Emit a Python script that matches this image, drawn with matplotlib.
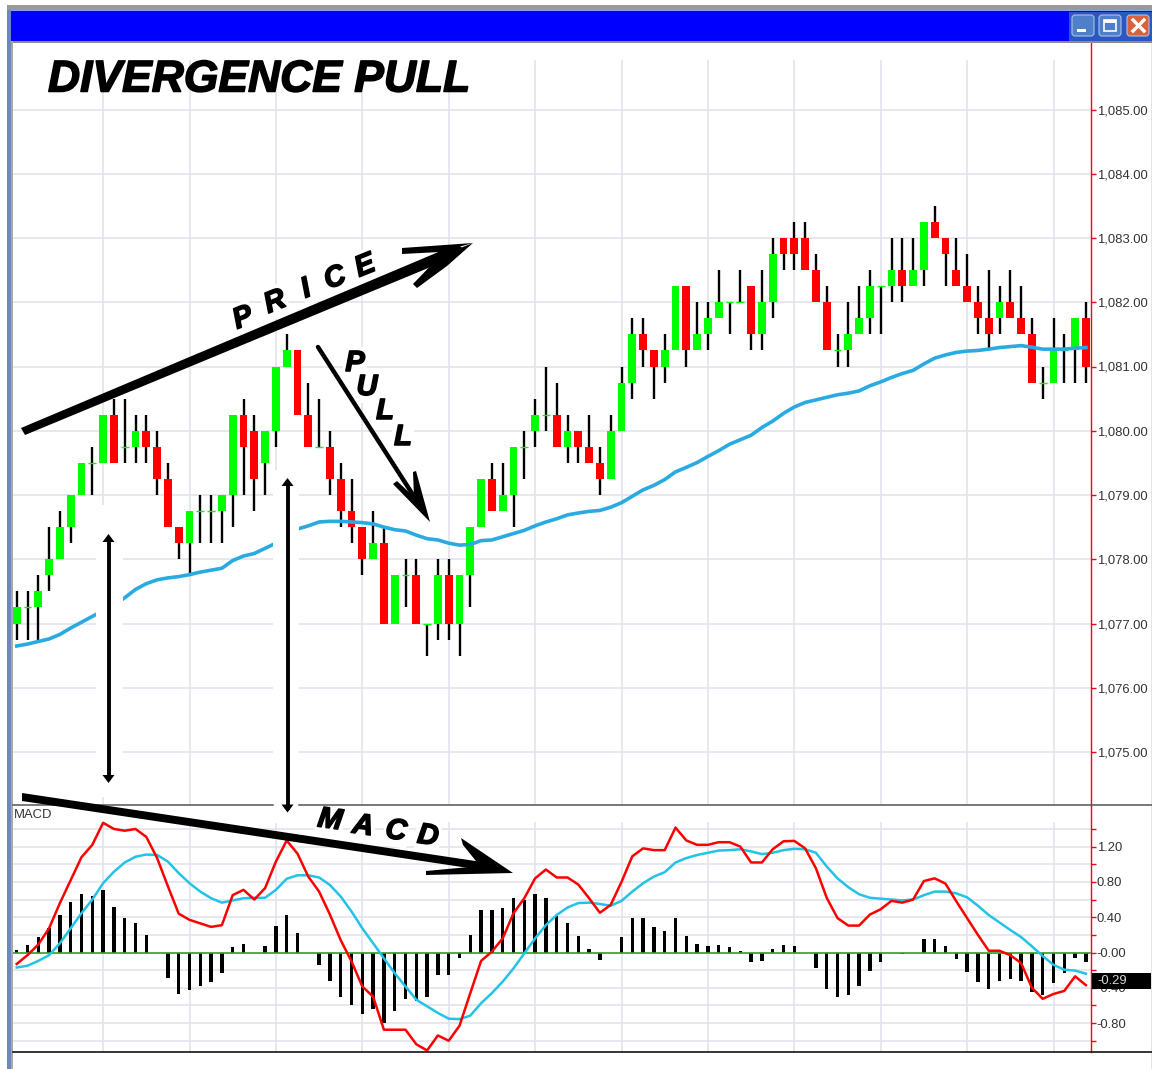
import matplotlib
matplotlib.use("Agg")
import matplotlib.pyplot as plt
import matplotlib.patheffects as pe
from matplotlib.patches import FancyBboxPatch, Rectangle
import numpy as np

plt.rcParams["font.family"] = ["Liberation Sans", "DejaVu Sans"]

# candles, one row per column of the chart (100 bars)
opens = [1077, 1077.25, 1077.25, 1077.75, 1078, 1078.5, 1079, 1079.5, 1079.5, 1080.25,
         1079.75, 1079.75, 1080, 1079.75, 1079.25, 1078.5, 1078.25, 1078.75, 1078.75, 1078.75,
         1079, 1080.25, 1080, 1079.5, 1080, 1081, 1081.25, 1080.25, 1079.75, 1079.75,
         1079.25, 1078.75, 1078.5, 1078, 1078.25, 1077, 1077.75, 1077.75, 1077, 1077,
         1077.75, 1077, 1077.75, 1078.5, 1079.25, 1078.75, 1079, 1079.75, 1080, 1080.25,
         1080.25, 1079.75, 1080, 1079.75, 1079.5, 1079.25, 1080, 1080.75, 1081.5, 1081.25,
         1081, 1081.25, 1082.25, 1081.25, 1081.5, 1081.75, 1082, 1082, 1082.25, 1081.5,
         1082, 1083, 1083, 1083, 1082.5, 1082, 1081.25, 1081.25, 1081.5, 1081.75,
         1082.25, 1082.25, 1082.5, 1082.25, 1082.5, 1083.25, 1083, 1082.5, 1082.25, 1082,
         1081.75, 1081.75, 1082, 1081.75, 1081.5, 1080.75, 1080.75, 1081.25, 1081.25, 1081.75]
highs = [1077.5, 1077.5, 1077.75, 1078.5, 1078.75, 1079, 1079.5, 1079.75, 1080.25, 1080.5,
         1080.5, 1080.25, 1080.25, 1080, 1079.5, 1078.5, 1078.75, 1079, 1079, 1079,
         1080.25, 1080.5, 1080.25, 1080, 1081, 1081.5, 1081.25, 1080.75, 1080.5, 1080,
         1079.5, 1079.25, 1078.5, 1078.75, 1078.5, 1077.75, 1078, 1078, 1077, 1078,
         1078, 1077.75, 1078.5, 1079.25, 1079.5, 1079.5, 1079.75, 1080, 1080.5, 1081,
         1080.75, 1080.25, 1080, 1080.25, 1079.75, 1080.25, 1081, 1081.75, 1081.75, 1081.25,
         1081.5, 1082.25, 1082.25, 1082, 1082, 1082.5, 1082, 1082.5, 1082.25, 1082.5,
         1083, 1083, 1083.25, 1083.25, 1082.75, 1082.25, 1081.5, 1082, 1082.25, 1082.5,
         1082.25, 1083, 1083, 1083, 1083.25, 1083.5, 1083, 1083, 1082.75, 1082.25,
         1082.5, 1082.25, 1082.5, 1082.25, 1081.75, 1081, 1081.75, 1081.5, 1081.75, 1082]
lows = [1076.75, 1076.75, 1076.75, 1077.5, 1078, 1078.25, 1079, 1079, 1079.5, 1079.5,
        1079.5, 1079.5, 1079.5, 1079, 1078.5, 1078, 1077.75, 1078.25, 1078.25, 1078.25,
        1078.5, 1079, 1078.75, 1079, 1079.75, 1081, 1080.25, 1079.75, 1079.75, 1079,
        1078.5, 1078.25, 1077.75, 1078, 1077, 1077, 1077.25, 1077, 1076.5, 1076.75,
        1076.75, 1076.5, 1077.25, 1078.5, 1078.75, 1078.75, 1078.5, 1079.25, 1079.75, 1080,
        1079.75, 1079.5, 1079.5, 1079.5, 1079, 1079.25, 1080, 1080.5, 1081, 1080.5,
        1080.75, 1081.25, 1081, 1081.25, 1081.25, 1081.75, 1081.5, 1082, 1081.25, 1081.25,
        1081.75, 1082.5, 1082.5, 1082.5, 1082, 1081.25, 1081, 1081, 1081.5, 1081.5,
        1081.5, 1082, 1082, 1082.25, 1082.25, 1083, 1082.25, 1082.25, 1082, 1081.5,
        1081.25, 1081.5, 1081.75, 1081.5, 1080.75, 1080.5, 1080.75, 1080.75, 1080.75, 1080.75]
closes = [1077.25, 1077.25, 1077.5, 1078, 1078.5, 1079, 1079.5, 1079.5, 1080.25, 1079.5,
          1079.75, 1080, 1079.75, 1079.25, 1078.5, 1078.25, 1078.75, 1078.75, 1078.75, 1079,
          1080.25, 1079.75, 1079.25, 1080, 1081, 1081.25, 1080.25, 1079.75, 1079.75, 1079.25,
          1078.75, 1078.5, 1078, 1078.25, 1077, 1077.75, 1077.75, 1077, 1077, 1077.75,
          1077, 1077.75, 1078.5, 1079.25, 1078.75, 1079, 1079.75, 1079.75, 1080.25, 1080.25,
          1079.75, 1080, 1079.75, 1079.5, 1079.25, 1080, 1080.75, 1081.5, 1081.25, 1081,
          1081.25, 1082.25, 1081.25, 1081.5, 1081.75, 1082, 1082, 1082, 1081.5, 1082,
          1082.75, 1082.75, 1082.75, 1082.5, 1082, 1081.25, 1081.25, 1081.5, 1081.75, 1082.25,
          1082.25, 1082.5, 1082.25, 1082.5, 1083.25, 1083, 1082.75, 1082.25, 1082, 1081.75,
          1081.5, 1082, 1081.75, 1081.5, 1080.75, 1080.75, 1081.25, 1081.25, 1081.75, 1081]
moving_avg = [1076.65, 1076.68, 1076.72, 1076.76, 1076.83, 1076.93, 1077.02, 1077.11, 1077.2, 1077.29,
              1077.40, 1077.53, 1077.62, 1077.68, 1077.71, 1077.73, 1077.76, 1077.80, 1077.83, 1077.86,
              1077.98, 1078.05, 1078.09, 1078.17, 1078.25, 1078.37, 1078.47, 1078.52, 1078.58, 1078.59,
              1078.59, 1078.58, 1078.57, 1078.55, 1078.50, 1078.46, 1078.44, 1078.375, 1078.32, 1078.30,
              1078.25, 1078.22, 1078.23, 1078.29, 1078.30, 1078.35, 1078.40, 1078.45, 1078.52, 1078.58,
              1078.63, 1078.69, 1078.72, 1078.745, 1078.76, 1078.81, 1078.88, 1078.98, 1079.08, 1079.15,
              1079.24, 1079.36, 1079.43, 1079.505, 1079.60, 1079.69, 1079.79, 1079.86, 1079.93, 1080.05,
              1080.15, 1080.27, 1080.37, 1080.44, 1080.48, 1080.52, 1080.56, 1080.585, 1080.62, 1080.70,
              1080.76, 1080.83, 1080.89, 1080.94, 1081.04, 1081.13, 1081.18, 1081.22, 1081.24, 1081.25,
              1081.27, 1081.295, 1081.31, 1081.325, 1081.30, 1081.27, 1081.27, 1081.27, 1081.285, 1081.295]

macd_line = [-0.13, -0.03, 0.09, 0.275, 0.56, 0.82, 1.08, 1.22, 1.47, 1.40,
             1.38, 1.40, 1.31, 1.07, 0.75, 0.44, 0.37, 0.33, 0.29, 0.31,
             0.65, 0.71, 0.60, 0.73, 1.03, 1.27, 1.12, 0.86, 0.69, 0.43,
             0.14, -0.10, -0.385, -0.50, -0.875, -0.875, -0.875, -1.04, -1.11, -0.94,
             -1.0, -0.83, -0.46, -0.095, 0.01, 0.16, 0.445, 0.615, 0.84, 0.94,
             0.85, 0.85, 0.77, 0.615, 0.45, 0.54, 0.80, 1.09, 1.18, 1.16,
             1.16, 1.415, 1.27, 1.22, 1.22, 1.25, 1.25, 1.20, 1.02, 1.02,
             1.17, 1.26, 1.265, 1.18, 0.955, 0.62, 0.39, 0.305, 0.305, 0.43,
             0.49, 0.585, 0.565, 0.60, 0.81, 0.84, 0.78, 0.58, 0.39, 0.20,
             0.02, 0.02, -0.03, -0.12, -0.40, -0.525, -0.47, -0.435, -0.27, -0.37]
signal_line = [-0.17, -0.15, -0.095, -0.03, 0.105, 0.275, 0.445, 0.60, 0.785, 0.915,
               1.02, 1.085, 1.11, 1.105, 1.03, 0.90, 0.785, 0.69, 0.615, 0.565,
               0.59, 0.615, 0.62, 0.62, 0.71, 0.835, 0.875, 0.875, 0.85, 0.765,
               0.635, 0.465, 0.275, 0.105, -0.065, -0.235, -0.385, -0.535, -0.61, -0.685,
               -0.75, -0.755, -0.715, -0.575, -0.46, -0.33, -0.18, -0.01, 0.16, 0.31,
               0.425, 0.51, 0.56, 0.565, 0.55, 0.53, 0.585, 0.69, 0.785, 0.86,
               0.91, 1.02, 1.07, 1.105, 1.13, 1.155, 1.16, 1.17, 1.145, 1.115,
               1.13, 1.16, 1.175, 1.17, 1.13, 0.975, 0.84, 0.74, 0.66, 0.62,
               0.61, 0.60, 0.59, 0.60, 0.65, 0.69, 0.69, 0.67, 0.625, 0.53,
               0.425, 0.34, 0.255, 0.175, 0.07, -0.04, -0.14, -0.195, -0.205, -0.24]
histogram = [0.03, 0.09, 0.17, 0.28, 0.43, 0.57, 0.66, 0.64, 0.71, 0.51,
             0.39, 0.33, 0.20, 0.0, -0.29, -0.47, -0.43, -0.385, -0.335, -0.235,
             0.06, 0.10, 0.0, 0.075, 0.305, 0.43, 0.225, 0.0, -0.14, -0.32,
             -0.50, -0.59, -0.70, -0.64, -0.80, -0.66, -0.525, -0.555, -0.50, -0.25,
             -0.25, -0.06, 0.20, 0.48, 0.48, 0.50, 0.615, 0.60, 0.66, 0.615,
             0.415, 0.33, 0.185, 0.035, -0.085, 0.0, 0.17, 0.39, 0.39, 0.29,
             0.24, 0.39, 0.185, 0.10, 0.075, 0.085, 0.06, 0.02, -0.11, -0.10,
             0.035, 0.085, 0.075, 0.0, -0.17, -0.41, -0.505, -0.48, -0.385, -0.21,
             -0.11, 0.0, -0.02, 0.0, 0.155, 0.155, 0.075, -0.07, -0.22, -0.33,
             -0.41, -0.32, -0.30, -0.32, -0.45, -0.48, -0.34, -0.235, -0.06, -0.11]

price_ticks = [1075, 1076, 1077, 1078, 1079, 1080, 1081, 1082, 1083, 1084, 1085]
macd_ticks = [1.2, 0.8, 0.4, 0.0, -0.4, -0.8]
macd_tick_labels = ["1.20", "0.80", "0.40", "-0.00", "-0.40", "-0.80"]
macd_minor = [1.4, 1.0, 0.6, 0.2, -0.2, -0.6, -1.0]
last_macd = "-0.29"

W, H = 1152, 1069
GRID = "#E1E3EC"
RED = "#FF0000"
GREEN = "#00FF00"
PANEL_LEFT, PANEL_RIGHT = 13, 1091
PRICE_TOP, DIVIDER, MACD_BOTTOM = 42, 805, 1052

fig = plt.figure(figsize=(W / 100, H / 100), dpi=100, facecolor="white")


def panel(top, bottom, zorder):
    return fig.add_axes([PANEL_LEFT / W, 1 - bottom / H, (PANEL_RIGHT - PANEL_LEFT) / W, (bottom - top) / H],
                        zorder=zorder, facecolor="white")


def style_axis(ax):
    ax.set_xlim((PANEL_LEFT - 16.7) / 10.8, (PANEL_RIGHT - 16.7) / 10.8)
    for side in ["top", "left", "bottom"]:
        ax.spines[side].set_visible(False)
    ax.spines["right"].set_color(RED)
    ax.spines["right"].set_linewidth(1.0)
    ax.yaxis.tick_right()
    ax.tick_params(axis="y", which="both", colors=RED, length=3.6, width=1, pad=0.5, labelcolor="#333333", labelsize=9.4)
    ax.set_xticks([])


bars = np.arange(len(closes))
grid_bars = np.arange(8, 100, 8)

# price panel
price_ax = panel(PRICE_TOP, DIVIDER, 1)
style_axis(price_ax)
price_ax.set_ylim(1075 - (DIVIDER - 752) / 64.25, 1085 + (109.5 - PRICE_TOP) / 64.25)
price_ax.set_yticks(price_ticks, [f"{p:,.2f}" for p in price_ticks])
price_ax.hlines(price_ticks, *price_ax.get_xlim(), color=GRID, lw=1.2, zorder=1)
price_ax.vlines(grid_bars, price_ax.get_ylim()[0], 1085 + (109.5 - 60) / 64.25, color=GRID, lw=1.2, zorder=1)

price_ax.vlines(bars, lows, highs, color="black", lw=1.7, zorder=2)
opens_a, closes_a = np.array(opens), np.array(closes)
candle_colors = [GREEN if c >= o else RED for o, c in zip(opens, closes)]
body_low = np.minimum(opens_a, closes_a)
price_ax.bar(bars, np.abs(closes_a - opens_a), bottom=body_low, width=0.74, color=candle_colors, zorder=3)
doji = opens_a == closes_a
price_ax.hlines(closes_a[doji], bars[doji] - 0.37, bars[doji] + 0.37, color=GREEN, lw=1, zorder=3)
price_ax.plot(bars, moving_avg, color="#29ABE2", lw=2.6, zorder=4)

# macd panel
macd_ax = panel(DIVIDER, MACD_BOTTOM, 1)
style_axis(macd_ax)
macd_ax.set_ylim(-(MACD_BOTTOM - 952.5) / 88.25, (952.5 - DIVIDER) / 88.25)
macd_ax.set_yticks(macd_ticks, macd_tick_labels)
macd_ax.set_yticks(macd_minor, minor=True)
macd_ax.hlines(macd_ticks + macd_minor, *macd_ax.get_xlim(), color=GRID, lw=1.2, zorder=1)
macd_ax.vlines(grid_bars, macd_ax.get_ylim()[0], (952.5 - 822) / 88.25, color=GRID, lw=1.2, zorder=1)
macd_ax.bar(bars, histogram, width=0.3, color="black", zorder=2)
macd_ax.axhline(0, color="#3A9E35", lw=1.2, zorder=3)
macd_ax.plot(bars, signal_line, color="#22C3E6", lw=1.8, zorder=4)
macd_ax.plot(bars, macd_line, color=RED, lw=1.8, zorder=5)

# everything hand drawn on the screenshot sits in pixel coordinates on top
over = fig.add_axes([0, 0, 1, 1], zorder=5)
over.set_xlim(0, W)
over.set_ylim(H, 0)
over.axis("off")

# window frame
over.add_patch(Rectangle((7, 5), W - 7, 5, color="#9A9A9A", lw=0))
over.add_patch(Rectangle((8, 10), W - 8, 1, color="#7FA6F5", lw=0))
over.add_patch(Rectangle((8, 11), W - 8, 30, color="#0000FF", lw=0))
over.add_patch(Rectangle((1069, 12), W - 1069, 29, color="#2B57C2", lw=0))
over.add_patch(Rectangle((8, 41), W - 8, 2, color="#8C8C8C", lw=0))
over.add_patch(Rectangle((7, 10), 3.5, H - 10, color="#6C88C4", lw=0))
over.add_patch(Rectangle((10.5, 41), 2, H - 41, color="#A8A8A8", lw=0))
over.add_patch(Rectangle((1150.5, 43), 1.5, H - 43, color="#E4E4E4", lw=0))
for x0, fc in [(1072, "#4F7FC8"), (1099, "#4F7FC8"), (1127, "#D9623C")]:
    over.add_patch(FancyBboxPatch((x0, 15), 22, 21, boxstyle="round,pad=0,rounding_size=3", fc=fc, ec="#A9C2E8", lw=0.8))
over.add_patch(Rectangle((1077, 29), 9, 3, color="white", lw=0, zorder=1.2))
over.add_patch(Rectangle((1104, 20), 12, 11, fc="none", ec="white", lw=1.2, zorder=1.2))
over.add_patch(Rectangle((1104, 20), 12, 2.5, color="white", lw=0, zorder=1.2))
over.plot([1133, 1144], [20, 31], color="white", lw=2.4)
over.plot([1133, 1144], [31, 20], color="white", lw=2.4)

# the annotated screenshot has white boxes around its arrows
over.add_patch(Rectangle((96, 505), 26.5, 292, color="white", lw=0, zorder=1))
over.add_patch(Rectangle((272.5, 470), 26.5, 353, color="white", lw=0, zorder=1))

# title
thick = [pe.withStroke(linewidth=1.1, foreground="black")]
over.text(48, 80, "DIVERGENCE PULL", fontsize=32, fontweight="bold", fontstyle="italic", color="black",
          ha="left", va="center", path_effects=thick, zorder=3)

# letters along the arrows
letters = [("P", 243, 318, 22), ("R", 275, 302, 22), ("I", 306, 289, 22), ("C", 335, 278, 22), ("E", 365, 266, 22),
           ("P", 355, 363, 0), ("U", 367, 387, 0), ("L", 385, 411, 0), ("L", 403, 437, 0),
           ("M", 330, 820, -8), ("A", 363, 826, -8), ("C", 396, 831, -8), ("D", 428, 836, -8)]
for letter, lx, ly, rot in letters:
    over.text(lx, ly, letter, fontsize=21, fontweight="bold", fontstyle="italic", color="black", ha="center",
              va="center", rotation=rot, path_effects=thick, zorder=1.5,
              bbox=dict(fc="white", ec="none", pad=1.5))

# panel borders and labels
over.plot([PANEL_LEFT, 272.5], [DIVIDER, DIVIDER], color="#555555", lw=1.1, zorder=2)
over.plot([299, W], [DIVIDER, DIVIDER], color="#555555", lw=1.1, zorder=2)
over.plot([PANEL_LEFT, W], [MACD_BOTTOM, MACD_BOTTOM], color="black", lw=1.1, zorder=2)
over.text(13.5, 815, "MACD", fontsize=9.4, color="#333333", ha="left", va="center", zorder=2)

# last value flag
over.add_patch(Rectangle((1092, 973), 59, 16, color="black", lw=0, zorder=2))
over.text(1097, 981.5, last_macd, fontsize=9.4, color="#D8D8D8", ha="left", va="center", zorder=3)

# price arrow
over.fill([21, 25, 450, 462, 455], [428, 435, 259, 247, 245], color="black", lw=0, zorder=3)
over.fill([473, 402, 402, 440], [243, 248, 254, 252], color="black", lw=0, zorder=3)
over.fill([473, 440, 413, 417, 447], [243, 256, 284, 288, 266], color="black", lw=0, zorder=3)
# macd arrow
over.fill([22, 22, 482, 482], [793, 801, 870, 862], color="black", lw=0, zorder=3)
over.fill([513, 461, 463, 480, 426, 426], [873, 838, 845, 866, 871, 875], color="black", lw=0, zorder=3)
# pull arrow
over.plot([318, 424], [347, 512], color="black", lw=3.2, solid_capstyle="round", zorder=3)
over.fill([430, 393, 397, 414, 413, 416], [522, 484, 481, 497, 472, 471], color="black", lw=0, zorder=3)
# double arrows
for ax_x, y_top, y_bottom in [(108.5, 534, 783), (287.5, 478, 812.5)]:
    over.plot([ax_x, ax_x], [y_top + 5, y_bottom - 5], color="black", lw=2.8, zorder=3)
    over.fill([ax_x, ax_x - 6, ax_x + 6], [y_top, y_top + 8, y_top + 8], color="black", lw=0, zorder=3)
    over.fill([ax_x, ax_x - 6, ax_x + 6], [y_bottom, y_bottom - 8, y_bottom - 8], color="black", lw=0, zorder=3)

fig.savefig("out.png", dpi=100)
